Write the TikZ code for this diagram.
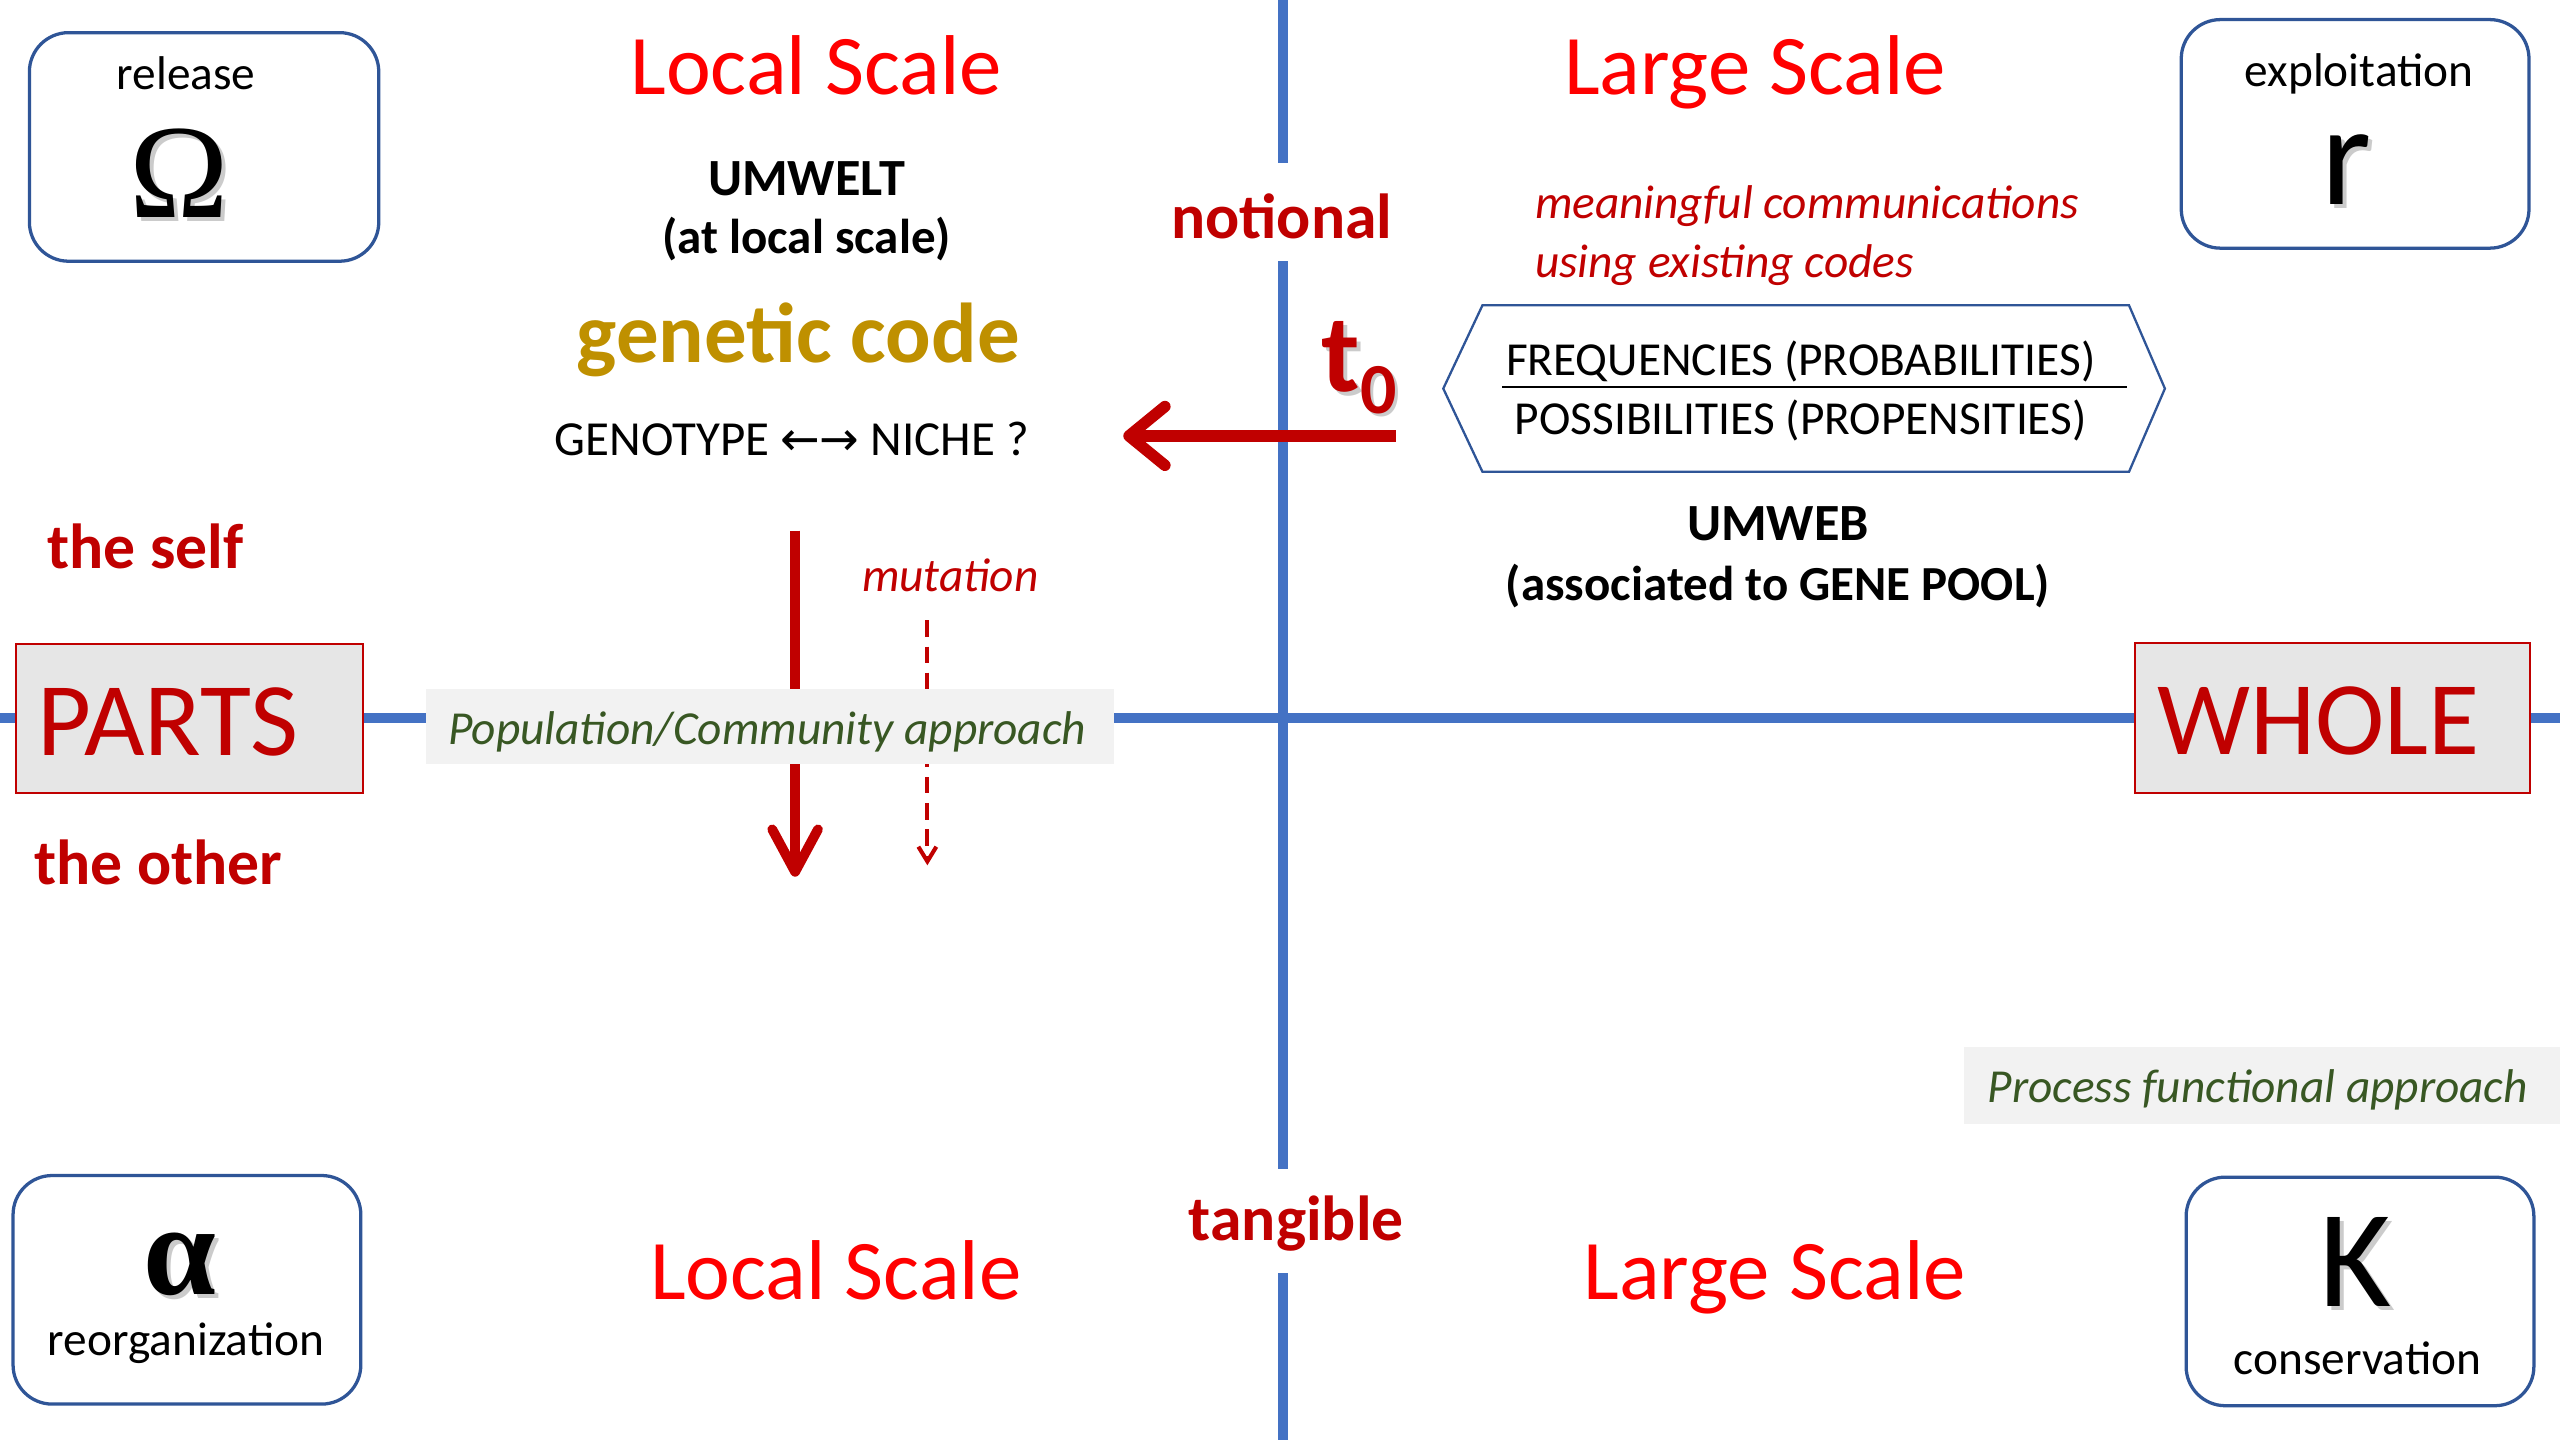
\documentclass[tikz,border=0pt]{standalone}
\usepackage{fontspec}
\setmainfont{Carlito}
\newfontfamily\greekfont{Liberation Serif}
\newfontfamily\arrowfont{DejaVu Sans}
\usetikzlibrary{arrows.meta}
\definecolor{axisblue}{HTML}{4472C4}
\definecolor{boxblue}{HTML}{2F5597}
\definecolor{darkred}{HTML}{C00000}
\definecolor{brightred}{HTML}{FF0000}
\definecolor{goldc}{HTML}{BF9000}
\definecolor{dkgreen}{HTML}{385723}
\definecolor{panelgray}{HTML}{F2F2F2}
\definecolor{boxgray}{HTML}{E6E6E6}
\newcommand\fsz[1]{\fontsize{#1}{#1}\selectfont}
\tikzset{
  txt/.style={inner sep=0pt, anchor=base},
  phasebox/.style={draw=boxblue, line width=2pt, rounded corners=24pt, fill=white, inner sep=0pt},
  wholebox/.style={draw=darkred, line width=1.2pt, fill=boxgray, inner sep=0pt, anchor=north west},
  panel/.style={fill=panelgray, inner sep=0pt, anchor=north west},
  axis/.style={draw=axisblue, line width=6pt},
  shadowtxt/.style={txt, text=black!45, opacity=0.45},
  heading/.style={txt, text=brightred, font=\fsz{52}},
  boldblack/.style={txt, font=\bfseries\fsz{32}},
  boldsub/.style={txt, font=\bfseries\fsz{30}},
  redbold/.style={txt, text=darkred, font=\bfseries\fsz{39}},
  redit/.style={txt, text=darkred, font=\itshape\fsz{29}},
  greenit/.style={txt, text=dkgreen, font=\itshape\fsz{29}},
  plain/.style={txt, font=\fsz{29}},
}
\begin{document}
\begin{tikzpicture}[x=1pt,y=-1pt]
\useasboundingbox (0,0) rectangle (1568,882);
% axes
\coordinate (hleft) at (0,440);
\coordinate (hright) at (1568,440);
\coordinate (vtop) at (786,0);
\coordinate (vg1) at (786,100);
\coordinate (vg2) at (786,160);
\coordinate (vg3) at (786,716);
\coordinate (vg4) at (786,780);
\coordinate (vbot) at (786,882);
\draw[axis] (hleft) -- (hright);
\draw[axis] (vtop) -- (vg1);
\draw[axis] (vg2) -- (vg3);
\draw[axis] (vg4) -- (vbot);

% arrows
\coordinate (astart) at (855,267);
\coordinate (aend) at (688,267);
\draw[darkred, line width=7pt, -{Straight Barb[length=22pt,width=36pt,line cap=round,line join=round]}] (astart) -- (aend);
\coordinate (dstart) at (487,325);
\coordinate (dend) at (487,537);
\draw[darkred, line width=6pt, -{Straight Barb[length=26pt,width=28pt,line cap=round,line join=round]}] (dstart) -- (dend);
\coordinate (mstart) at (568,380);
\coordinate (mend) at (568,530);
\draw[darkred, line width=2.5pt, dash pattern=on 10pt off 6pt, -{Straight Barb[length=9pt,width=11pt]}] (mstart) -- (mend);

% panels
\node[panel, minimum width=421pt, minimum height=46pt] (popbox) at (261,422) {};
\node[greenit, anchor=base] (poptxt) at (470,456) {Population/Community approach};
\node[panel, minimum width=365pt, minimum height=47pt] (procbox) at (1203,641) {};
\node[greenit] (proctxt) at (1383,675) {Process functional approach};

% PARTS / WHOLE
\node[wholebox, minimum width=213pt, minimum height=91pt] (partsbox) at (9,394) {};
\node[txt, text=darkred, font=\fsz{64}] (partstxt) at (103,463) {PARTS};
\node[wholebox, minimum width=242pt, minimum height=92pt] (wholebx) at (1307,393) {};
\node[txt, text=darkred, font=\fsz{64}] (wholetxt) at (1420,462) {WHOLE};

% phase boxes
\node[phasebox, minimum width=214pt, minimum height=140pt] (relbox) at (125,90) {};
\node[plain] (reltxt) at (114,55) {release};
\node[shadowtxt, font=\greekfont\fsz{82}] (omshadow) at (112.5,135.5) {Ω};
\node[txt, font=\greekfont\fsz{82}] (omega) at (110,133) {Ω};

\node[phasebox, minimum width=213pt, minimum height=140pt] (expbox) at (1442.5,82) {};
\node[plain] (exptxt) at (1445,53) {exploitation};
\node[shadowtxt, font=\fsz{88}] (rshadow) at (1439.5,127.5) {r};
\node[txt, font=\fsz{88}] (rsym) at (1437,125) {r};

\node[phasebox, minimum width=213pt, minimum height=140pt] (reobox) at (114.5,790) {};
\node[plain] (reotxt) at (114,830) {reorganization};
\node[shadowtxt, font=\greekfont\bfseries\fsz{80}] (alshadow) at (112.5,795.5) {α};
\node[txt, font=\greekfont\bfseries\fsz{80}] (alpha) at (110,793) {α};

\node[phasebox, minimum width=213pt, minimum height=140pt] (conbox) at (1445.5,791) {};
\node[plain] (contxt) at (1444,842) {conservation};
\node[shadowtxt, font=\fsz{85}] (kshadow) at (1445.5,802.5) {K};
\node[txt, font=\fsz{85}] (ksym) at (1443,800) {K};

% headings
\node[heading] (loctop) at (500,58) {Local Scale};
\node[heading] (lartop) at (1075,58) {Large Scale};
\node[heading] (locbot) at (512,796) {Local Scale};
\node[heading] (larbot) at (1087,796) {Large Scale};

% left column texts
\node[boldblack] (umwelt) at (494,120) {UMWELT};
\node[boldsub] (umwelt2) at (494,155) {(at local scale)};
\node[txt, text=goldc, font=\bfseries\fsz{52}] (gencode) at (489,222) {genetic code};
\node[plain, font=\fsz{30}] (genotype) at (485,279) {GENOTYPE {\arrowfont\fsz{29}←→} NICHE ?};
\node[redit] (mutation) at (582,362) {mutation};
\node[redbold] (self) at (89,348) {the self};
\node[redbold] (other) at (97,542) {the other};

% centre
\node[redbold] (notional) at (785,146) {notional};
\node[redbold] (tangible) at (794,760) {tangible};
\node[shadowtxt, font=\bfseries\fsz{68}] (tshadow) at (834.5,242) {t\raisebox{-13pt}{\fsz{44}0}};
\node[txt, text=darkred, font=\bfseries\fsz{68}] (tsym) at (832.5,240) {t\raisebox{-13pt}{\fsz{44}0}};

% right column
\node[redit, anchor=base west] (mean1) at (940,134) {meaningful communications};
\node[redit, anchor=base west] (mean2) at (940,170) {using existing codes};
\coordinate (h1) at (884,238);
\coordinate (h2) at (908,187);
\coordinate (h3) at (1304,187);
\coordinate (h4) at (1326,238);
\coordinate (h5) at (1304,289);
\coordinate (h6) at (908,289);
\draw[boxblue, line width=1.4pt, line join=miter] (h1) -- (h2) -- (h3) -- (h4) -- (h5) -- (h6) -- cycle;
\node[plain] (freq) at (1103,230) {FREQUENCIES (PROBABILITIES)};
\node[plain] (poss) at (1103,266) {POSSIBILITIES (PROPENSITIES)};
\coordinate (d1) at (920,237);
\coordinate (d2) at (1303,237);
\draw[black, line width=1pt] (d1) -- (d2);
\node[boldblack] (umweb) at (1089,331) {UMWEB};
\node[boldsub] (umweb2) at (1089,368) {(associated to GENE POOL)};
\end{tikzpicture}
\end{document}
